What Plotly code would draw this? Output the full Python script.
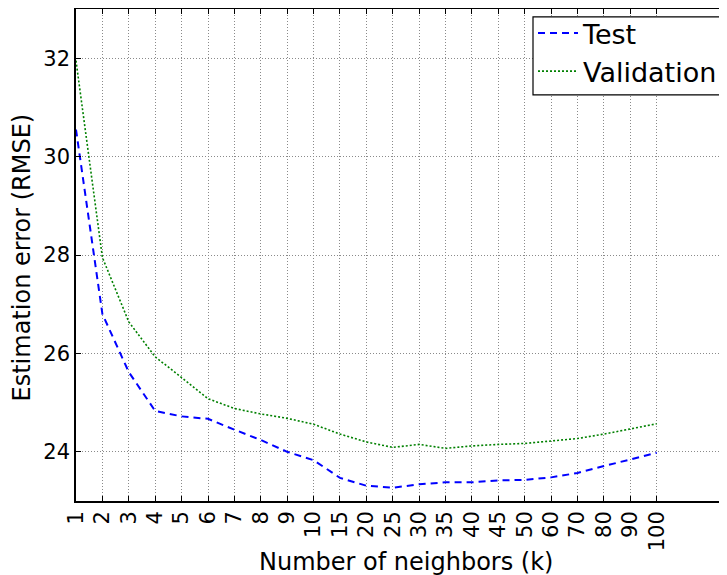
import plotly.graph_objects as go

k_labels = ["1", "2", "3", "4", "5", "6", "7", "8", "9", "10", "15", "20", "25",
            "30", "35", "40", "45", "50", "60", "70", "80", "90", "100"]
test_rmse = [30.55, 26.8, 25.62, 24.83, 24.72, 24.67, 24.45, 24.24, 24.0, 23.83,
             23.47, 23.31, 23.27, 23.34, 23.38, 23.38, 23.42, 23.43, 23.48, 23.57,
             23.71, 23.85, 23.98]
val_rmse = [31.95, 27.95, 26.64, 25.93, 25.51, 25.08, 24.88, 24.77, 24.68, 24.56,
            24.36, 24.2, 24.09, 24.15, 24.07, 24.12, 24.15, 24.17, 24.22, 24.27,
            24.36, 24.46, 24.57]
y_ticks = [24, 26, 28, 30, 32]

fig = go.Figure()
fig.add_trace(go.Scatter(x=k_labels, y=test_rmse, mode="lines", name="Test",
                         line=dict(color="#0000ff", width=2, dash="7px,5px")))
fig.add_trace(go.Scatter(x=k_labels, y=val_rmse, mode="lines", name="Validation",
                         line=dict(color="#008000", width=1.6, dash="2px,2px")))

font = "DejaVu Sans, sans-serif"
grid = dict(showgrid=True, gridcolor="#8a8a8a", griddash="1px,2px", gridwidth=1)
fig.update_layout(
    width=719, height=567,
    margin=dict(l=68, r=0, t=1, b=74, autoexpand=False),
    plot_bgcolor="white", paper_bgcolor="white",
    font=dict(family=font, color="black"),
    xaxis=dict(type="category", range=[0, 24.66], tickangle=-90,
               tickfont=dict(size=21), **grid, automargin=False,
               showline=True, linecolor="black", linewidth=1.5, mirror="ticks",
               ticks="inside", ticklen=5, tickcolor="black", zeroline=False),
    yaxis=dict(range=[23, 33], tickvals=y_ticks, tickfont=dict(size=21),
               **grid, automargin=False, mirror="ticks",
               showline=True, linecolor="black", linewidth=1.5, ticks="inside",
               ticklen=5, tickcolor="black", zeroline=False),
    legend=dict(x=0.702, y=1.0, xanchor="left", yanchor="top",
                bgcolor="rgba(0,0,0,0)", borderwidth=0,
                font=dict(size=27), itemwidth=40, tracegroupgap=0),
    showlegend=True,
)
# legend frame (extends past the right edge, as in the reference)
fig.add_shape(type="rect", xref="paper", yref="paper", x0=0.702, x1=1.05,
              y0=0.8256, y1=0.9838, fillcolor="white",
              line=dict(color="black", width=1.2), layer="above")
fig.add_annotation(text="Number of neighbors (k)", xref="paper", yref="paper",
                   x=0.507, y=0, yanchor="middle",
                   xanchor="center", yshift=-61, showarrow=False,
                   font=dict(size=24))
fig.add_annotation(text="Estimation error (RMSE)", xref="paper", yref="paper",
                   x=0, y=0.495, xanchor="center", yanchor="middle", xshift=-54,
                   textangle=-90, showarrow=False, font=dict(size=24))
fig.write_html("out.html")
